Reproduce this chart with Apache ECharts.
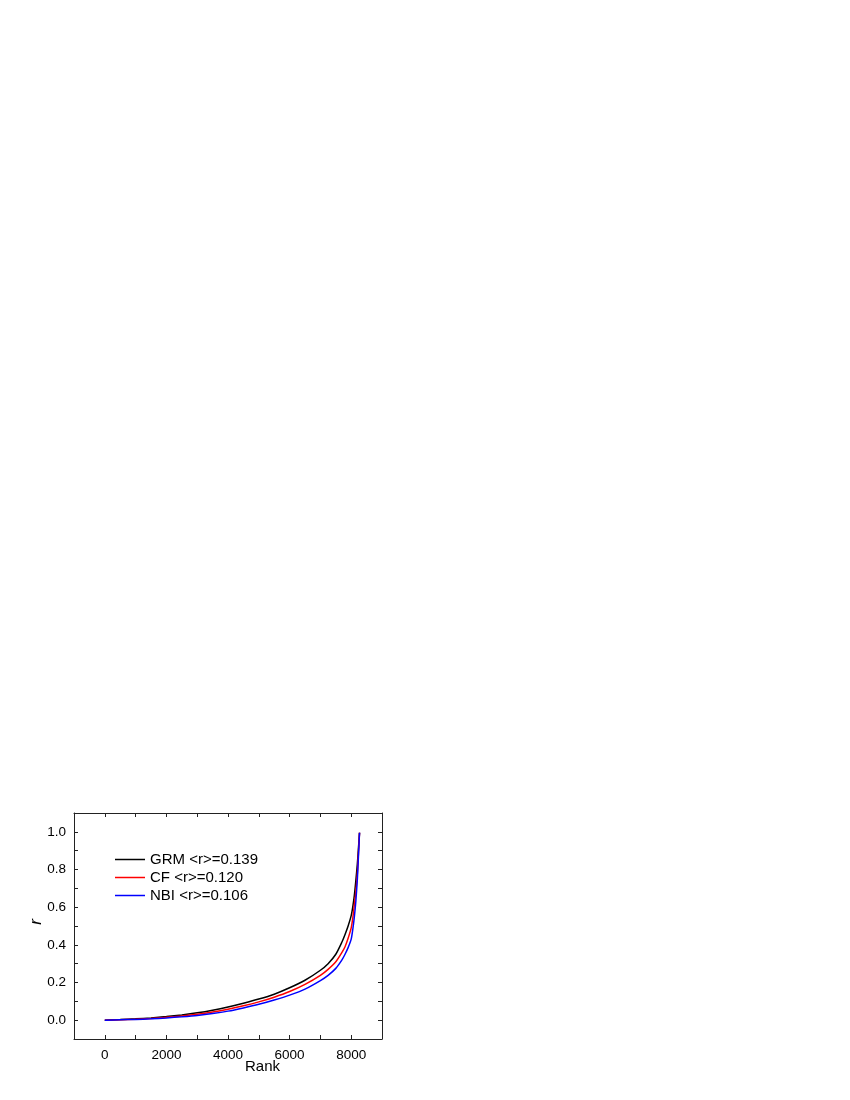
<!DOCTYPE html>
<html>
<head>
<meta charset="utf-8">
<script src="https://cdn.jsdelivr.net/npm/echarts@6/dist/echarts.min.js"></script>
<style>
  html, body { margin: 0; padding: 0; background: #fff; }
  #myChart { width: 850px; height: 1100px; }
</style>
</head>
<body>
<div id="myChart"></div>
<script>
// rank positions (x) and r values
var rankX = [0, 500, 1000, 1500, 2000, 2500, 3000, 3500, 4000, 4500, 5000, 5500, 6000, 6500, 7000, 7250, 7500, 7700, 7800, 7900, 8000, 8050, 8100, 8150, 8200, 8230, 8270]
var grmR = [0, 0.003, 0.007, 0.012, 0.019, 0.028, 0.039, 0.053, 0.07, 0.09, 0.112, 0.138, 0.172, 0.212, 0.265, 0.3, 0.35, 0.415, 0.455, 0.5, 0.555, 0.6, 0.66, 0.74, 0.83, 0.9, 0.995]
var cfR = [0, 0.002, 0.005, 0.009, 0.015, 0.022, 0.031, 0.043, 0.058, 0.076, 0.097, 0.122, 0.152, 0.19, 0.238, 0.27, 0.31, 0.36, 0.39, 0.435, 0.49, 0.54, 0.61, 0.68, 0.78, 0.87, 0.995]
var nbiR = [0, 0.002, 0.004, 0.007, 0.012, 0.018, 0.025, 0.035, 0.048, 0.065, 0.084, 0.107, 0.133, 0.165, 0.21, 0.238, 0.275, 0.32, 0.35, 0.385, 0.43, 0.48, 0.545, 0.63, 0.75, 0.85, 0.995]
var seriesNames = ['GRM <r>=0.139', 'CF <r>=0.120', 'NBI <r>=0.106']
var seriesColors = ['#000000', '#ff0000', '#0000ff']

function pairs (ys) {
  var out = []
  for (var i = 0; i < rankX.length; i++) {
    out.push([rankX[i], ys[i]])
  }
  return out
}

var font = 'Liberation Sans, Arial, sans-serif'
var axisLine = { show: true, onZero: false, lineStyle: { color: '#222', width: 1 } }
var tick = { show: true, inside: true, length: 4, lineStyle: { color: '#222' } }

function makeSeries (i, ys) {
  return {
    name: seriesNames[i],
    type: 'line',
    symbol: 'none',
    smooth: 0.25,
    data: pairs(ys),
    lineStyle: { color: seriesColors[i], width: 1.5 },
    itemStyle: { color: seriesColors[i] },
    z: 3 + i
  }
}

var myChart = echarts.init(document.getElementById('myChart'))
myChart.setOption({
  animation: false,
  backgroundColor: '#fff',
  grid: { left: 74, right: 468, top: 813, bottom: 61 },
  legend: {
    orient: 'vertical',
    left: 110,
    top: 846,
    icon: 'rect',
    itemWidth: 30,
    itemHeight: 1.5,
    itemGap: 1,
    textStyle: { fontFamily: font, fontSize: 15, color: '#000', lineHeight: 17 },
    data: seriesNames
  },
  xAxis: [
    {
      type: 'value', position: 'bottom', min: -1000, max: 9000, interval: 1000,
      axisLine: axisLine, axisTick: tick, splitLine: { show: false },
      axisLabel: {
        fontFamily: font, fontSize: 13.5, color: '#000', margin: 9,
        formatter: function (v) { return (v >= 0 && v % 2000 === 0) ? String(v) : '' }
      }
    },
    {
      type: 'value', position: 'top', min: -1000, max: 9000, interval: 1000,
      axisLine: axisLine, axisTick: tick, splitLine: { show: false },
      axisLabel: { show: false }
    }
  ],
  yAxis: [
    {
      type: 'value', position: 'left', min: -0.1, max: 1.1, interval: 0.1,
      axisLine: axisLine, axisTick: tick, splitLine: { show: false },
      axisLabel: {
        fontFamily: font, fontSize: 13.5, color: '#000', margin: 8,
        formatter: function (v) {
          var k = Math.round(v * 10)
          return (k >= 0 && k % 2 === 0) ? (k / 10).toFixed(1) : ''
        }
      }
    },
    {
      type: 'value', position: 'right', min: -0.1, max: 1.1, interval: 0.1,
      axisLine: axisLine, axisTick: tick, splitLine: { show: false },
      axisLabel: { show: false }
    }
  ],
  graphic: [
    { type: 'text', left: 245, top: 1059, style: { text: 'Rank', font: '15px Liberation Sans, Arial, sans-serif', fill: '#000' } },
    { type: 'text', x: 36, y: 922, rotation: Math.PI / 2, style: { text: 'r', font: 'italic 17px Liberation Sans, Arial, sans-serif', fill: '#000', align: 'center', verticalAlign: 'middle' } }
  ],
  series: [
    makeSeries(0, grmR),
    makeSeries(1, cfR),
    makeSeries(2, nbiR)
  ]
})
</script>
</body>
</html>
